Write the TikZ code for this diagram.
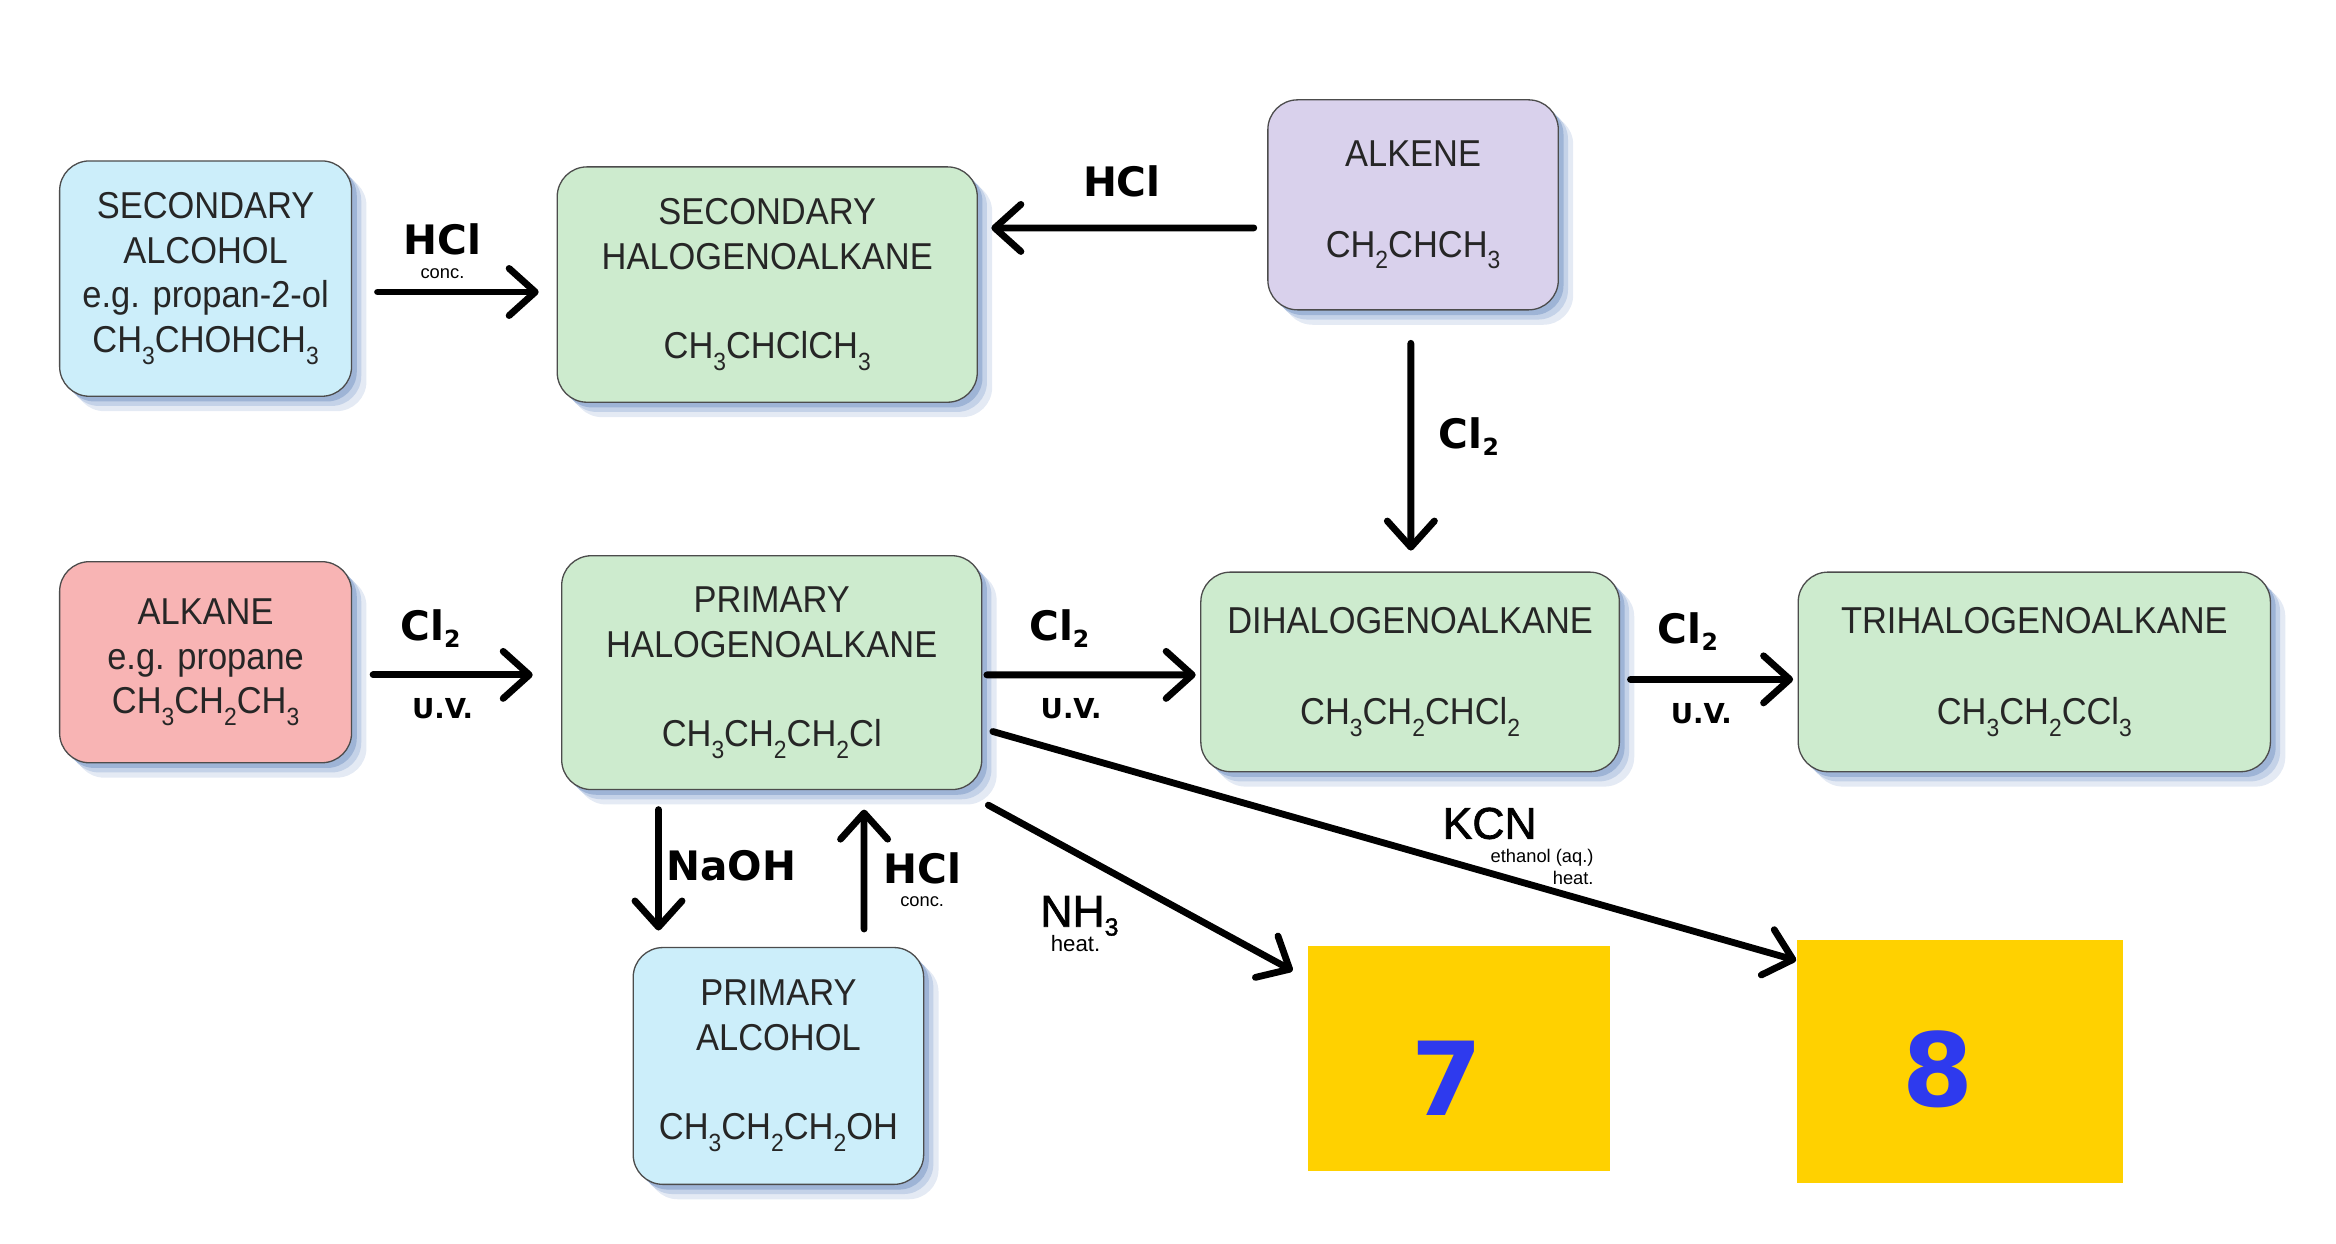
\documentclass[tikz,border=0pt]{standalone}
\usepackage{fontspec}
\setmainfont{Liberation Sans}
\newfontfamily\boxfont[FakeStretch=0.92]{Liberation Sans}
\newfontfamily\lblfont{DejaVu Sans}
\newfontfamily\arialf{Liberation Sans}
\newfontfamily\arialh[FakeBold=1.6]{Liberation Sans}
\usetikzlibrary{arrows.meta}
\definecolor{bluebox}{RGB}{204,238,250}
\definecolor{greenbox}{RGB}{205,235,206}
\definecolor{lavbox}{RGB}{217,209,236}
\definecolor{pinkbox}{RGB}{248,180,180}
\definecolor{yelbox}{RGB}{255,209,0}
\definecolor{digitblue}{RGB}{46,58,238}
\definecolor{txtgray}{RGB}{38,38,38}
\definecolor{shA}{RGB}{158,180,214}
\definecolor{shB}{RGB}{196,210,232}
\definecolor{shC}{RGB}{228,234,244}
\newcommand\bsb[1]{\raisebox{-4.5pt}{\fontsize{9.5}{9.5}\selectfont #1}}
\newcommand\lsb[1]{\raisebox{-2.5pt}{\fontsize{9}{9}\selectfont #1}}
\tikzset{
  box/.style={rounded corners=0.4cm, draw=black!70, line width=0.5pt,
    text=txtgray, align=center, inner sep=0pt,
    font=\boxfont\fontsize{14.3}{17.07}\selectfont,
    preaction={fill=shC, transform canvas={xshift=0.2cm,yshift=-0.2cm}},
    preaction={fill=shB, transform canvas={xshift=0.13cm,yshift=-0.13cm}},
    preaction={fill=shA, transform canvas={xshift=0.07cm,yshift=-0.07cm}}},
  ybox/.style={fill=yelbox, inner sep=0pt},
  digit/.style={text=digitblue, font=\lblfont\bfseries\fontsize{39}{39}\selectfont, inner sep=0pt},
  lbl/.style={font=\lblfont\bfseries\fontsize{15.5}{16}\selectfont, inner sep=0pt},
  uvl/.style={font=\lblfont\bfseries\fontsize{10.5}{11}\selectfont, inner sep=0pt},
  tiny/.style={font=\arialf\fontsize{7}{8}\selectfont, inner sep=0pt},
  heatl/.style={font=\arialf\fontsize{8.5}{9}\selectfont, inner sep=0pt},
  big/.style={font=\arialh\fontsize{17}{18}\selectfont, inner sep=0pt},
  arr/.style={line width=2.6pt, line cap=round, -{Straight Barb[length=10pt,width=18pt,round]}}
}
\begin{document}
\begin{tikzpicture}[x=0.02cm,y=-0.02cm]
\useasboundingbox (0,0) rectangle (1568,835);
% boxes
\node[box, fill=bluebox, minimum width=3.92cm, minimum height=3.16cm] (sa) at (138,187)
  {SECONDARY\\ALCOHOL\\e.g. propan-2-ol\\CH\bsb{3}CHOHCH\bsb{3}};
\node[box, fill=greenbox, minimum width=5.64cm, minimum height=3.16cm] (sh) at (515,191)
  {SECONDARY\\HALOGENOALKANE\\[0.6cm]CH\bsb{3}CHClCH\bsb{3}};
\node[box, fill=lavbox, minimum width=3.9cm, minimum height=2.82cm] (ak) at (948.5,137.5)
  {ALKENE\\[0.62cm]CH\bsb{2}CHCH\bsb{3}};
\node[box, fill=pinkbox, minimum width=3.92cm, minimum height=2.7cm] (an) at (138,444.5)
  {ALKANE\\e.g. propane\\CH\bsb{3}CH\bsb{2}CH\bsb{3}};
\node[box, fill=greenbox, minimum width=5.64cm, minimum height=3.14cm] (ph) at (518,451.5)
  {PRIMARY\\HALOGENOALKANE\\[0.6cm]CH\bsb{3}CH\bsb{2}CH\bsb{2}Cl};
\node[box, fill=greenbox, minimum width=5.62cm, minimum height=2.68cm] (di) at (946.5,451)
  {DIHALOGENOALKANE\\[0.62cm]CH\bsb{3}CH\bsb{2}CHCl\bsb{2}};
\node[box, fill=greenbox, minimum width=6.34cm, minimum height=2.68cm] (tri) at (1365.5,451)
  {TRIHALOGENOALKANE\\[0.62cm]CH\bsb{3}CH\bsb{2}CCl\bsb{3}};
\node[box, fill=bluebox, minimum width=3.9cm, minimum height=3.18cm] (pa) at (522.5,715.5)
  {PRIMARY\\ALCOHOL\\[0.6cm]CH\bsb{3}CH\bsb{2}CH\bsb{2}OH};
\node[ybox, minimum width=4.06cm, minimum height=3.02cm] (y7) at (979.5,710.5) {};
\node[ybox, minimum width=4.38cm, minimum height=3.26cm] (y8) at (1315.5,712.5) {};
\node[digit] (d7) at (971,724) {7};
\node[digit] (d8) at (1301,718) {8};
% arrows
\draw[arr] ([shift={(17,9)}]sa.east) -- ([shift={(-12,5)}]sh.west);
\draw[arr] ([shift={(-9,15.5)}]ak.west) -- ([shift={(9,-38)}]sh.east);
\draw[arr] ([shift={(-1.5,22)}]ak.south) -- ([shift={(0.5,-14)}]di.north);
\draw[arr] ([shift={(14,8.5)}]an.east) -- ([shift={(-19,1.5)}]ph.west);
\draw[arr] ([shift={(3,1.5)}]ph.east) -- ([shift={(-3,2)}]di.west);
\draw[arr] ([shift={(7,5)}]di.east) -- ([shift={(-3,5)}]tri.west);
\draw[arr] ([shift={(-76,13)}]ph.south) -- ([shift={(-80.5,-11)}]pa.north);
\draw[arr] ([shift={(57.5,-12)}]pa.north) -- ([shift={(62,13)}]ph.south);
\draw[arr] ([shift={(4,10)}]ph.south east) -- ([shift={(-10,17)}]y7.north west);
\draw[arr] ([shift={(7,39.5)}]ph.east) -- ([shift={(0,14)}]y8.north west);
% labels
\node[lbl] (l1) at (297,161) {HCl};
\node[tiny] (l1c) at (297,184) {conc.};
\node[lbl] (l2) at (753,122) {HCl};
\node[lbl] (l3) at (986,293) {Cl\lsb{2}};
\node[lbl] (l4) at (289,422) {Cl\lsb{2}};
\node[uvl] (l4u) at (297,476) {U.V.};
\node[lbl] (l5) at (711,422) {Cl\lsb{2}};
\node[uvl] (l5u) at (719,476) {U.V.};
\node[lbl] (l6) at (1133,424) {Cl\lsb{2}};
\node[uvl] (l6u) at (1142,479) {U.V.};
\node[lbl] (l7) at (491,581) {NaOH};
\node[lbl] (l8) at (619,583) {HCl};
\node[tiny] (l8c) at (619,605) {conc.};
\node[big, anchor=base west] (l9) at (698,622) {NH\raisebox{-3.4pt}{\fontsize{9.5}{9.5}\selectfont 3}};
\node[heatl, anchor=base west] (l9h) at (705,639) {heat.};
\node[big, anchor=base west] (l10) at (968,563) {KCN};
\node[tiny, anchor=base east] (l10e) at (1070,579) {ethanol (aq.)};
\node[tiny, anchor=base east] (l10h) at (1070,594) {heat.};
\end{tikzpicture}
\end{document}
